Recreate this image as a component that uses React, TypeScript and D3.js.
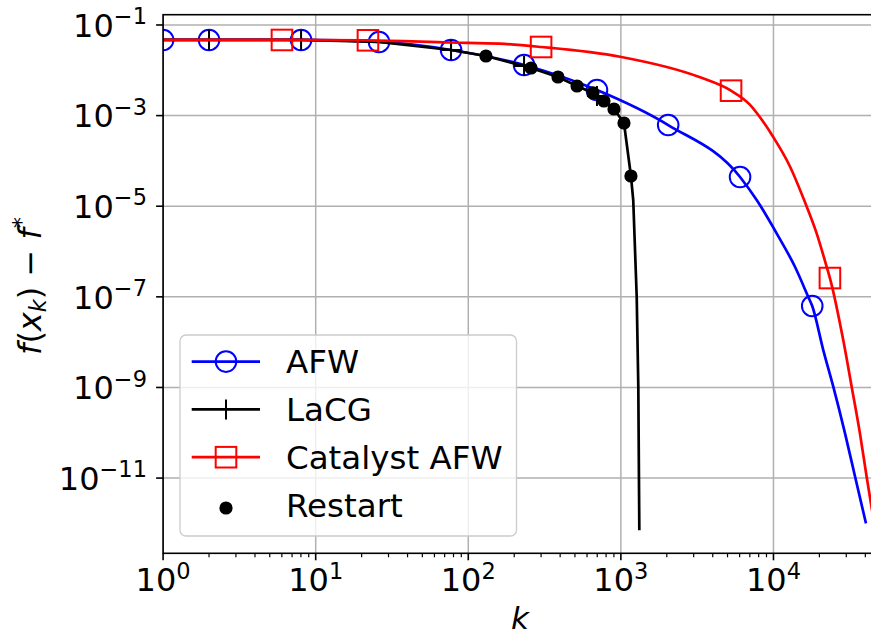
import React from 'react';
import * as d3 from 'd3';

// ---- data ----
const afwK = [1, 2, 8.02, 26, 77.1, 232, 697, 2042, 6040, 7762, 10490, 13830, 16900, 17950, 21200, 24660, 29440, 34270, 40390];
const afwF = [0.0467, 0.0467, 0.0467, 0.0422, 0.0281, 0.0131, 0.00367, 6.19e-4, 4.42e-5, 1.37e-5, 2.52e-6, 4.61e-7, 1.0e-7, 6.27e-8, 6.7e-9, 1.04e-9, 9.7e-11, 1.07e-11, 1.0e-12];
const afwMarkIdx = [0, 1, 2, 3, 4, 5, 6, 7, 8, 13];

const lacgK = [1, 2, 8.02, 26, 77.1, 130.6, 232, 258, 387, 516, 656, 697, 775, 901, 1048, 1164, 1205, 1270, 1301, 1321];
const lacgF = [0.0467, 0.0467, 0.0467, 0.0422, 0.0281, 0.0207, 0.01245, 0.01125, 0.00711, 0.0045, 0.00316, 0.00272, 0.0021, 0.0014, 6.87e-4, 4.65e-5, 1.37e-5, 9.9e-8, 1.02e-9, 7.1e-13];
const lacgMarkIdx = [1, 2, 4, 6, 11];
const restartIdx = [5, 7, 8, 9, 10, 12, 13, 14, 15];

const catK = [1, 6.01, 22.0, 75.9, 161, 300, 988, 3304, 5272, 7000, 8500, 9940, 12850, 15880, 19190, 22320, 23440, 28660, 32540, 36870, 40800, 43550, 46980];
const catF = [0.0467, 0.0467, 0.0459, 0.0411, 0.0387, 0.0327, 0.01995, 0.0070, 0.00355, 0.00175, 7.6e-4, 3.42e-4, 7.45e-5, 1.37e-5, 2.52e-6, 4.61e-7, 2.6e-7, 1.11e-8, 1.04e-9, 9.7e-11, 1.07e-11, 2.76e-12, 5.5e-13];
const catMarkIdx = [1, 2, 5, 8, 16];

const xTickExp = [0, 1, 2, 3, 4];
const yTickExp = [-1, -3, -5, -7, -9, -11];
const legendLabels = ['AFW', 'LaCG', 'Catalyst AFW', 'Restart'];

const FONT = 'DejaVu Sans';

export default function App() {
  const W = 871, H = 636;
  const left = 163.1, right = 874.6, top = 14.7, bottom = 553.3;
  const x = d3.scaleLog().domain([1, 46000]).range([left, right]);
  const y = d3.scaleLog().domain([Math.pow(10, -12.66), Math.pow(10, -0.773)]).range([bottom, top]);

  const smooth = d3.line<[number, number]>().x(d => x(d[0])).y(d => y(d[1])).curve(d3.curveMonotoneX);
  const straight = d3.line<[number, number]>().x(d => x(d[0])).y(d => y(d[1]));

  const afwPts = afwK.map((k, i) => [k, afwF[i]] as [number, number]);
  const lacgPts = lacgK.map((k, i) => [k, lacgF[i]] as [number, number]);
  const catPts = catK.map((k, i) => [k, catF[i]] as [number, number]);

  const minorX: number[] = [];
  for (let e = 0; e <= 4; e++) for (let m = 2; m <= 9; m++) { const v = m * Math.pow(10, e); if (v <= 46000) minorX.push(v); }

  const tickFs = 32, supFs = 22.5, supDy = 12.5;
  const legFs = 32.5;
  const legX = 180, legY = 335, legW = 336.5, legH = 201;
  const rowBase = (i: number) => 373.3 + i * 47.8;

  return (
    <svg width={W} height={H} style={{ position: 'absolute', left: 0, top: 0 }} fontFamily={FONT}>
      <rect x={0} y={0} width={W} height={H} fill="white" />
      <defs>
        <clipPath id="ax">
          <rect x={left} y={top} width={right - left} height={bottom - top} />
        </clipPath>
      </defs>
      {/* grid */}
      <g stroke="#b0b0b0" strokeWidth={1.5}>
        {xTickExp.map(e => <line key={'gx' + e} x1={x(Math.pow(10, e))} x2={x(Math.pow(10, e))} y1={top} y2={bottom} />)}
        {yTickExp.map(e => <line key={'gy' + e} x1={left} x2={right} y1={y(Math.pow(10, e))} y2={y(Math.pow(10, e))} />)}
      </g>
      <g clipPath="url(#ax)">
        {/* AFW */}
        <path d={smooth(afwPts) || ''} fill="none" stroke="#0000ff" strokeWidth={2.7} />
        {afwMarkIdx.map(i => <circle key={'am' + i} cx={x(afwK[i])} cy={y(afwF[i])} r={10.3} fill="none" stroke="#0000ff" strokeWidth={2} />)}
        {/* LaCG */}
        <path d={straight(lacgPts) || ''} fill="none" stroke="#000" strokeWidth={2.7} />
        {lacgMarkIdx.map(i => {
          const cx = x(lacgK[i]), cy = y(lacgF[i]);
          return <g key={'lm' + i} stroke="#000" strokeWidth={2}>
            <line x1={cx - 10} x2={cx + 10} y1={cy} y2={cy} />
            <line x1={cx} x2={cx} y1={cy - 10} y2={cy + 10} />
          </g>;
        })}
        {/* Catalyst AFW */}
        <path d={smooth(catPts) || ''} fill="none" stroke="#ff0000" strokeWidth={2.7} />
        {catMarkIdx.map(i => <rect key={'cm' + i} x={x(catK[i]) - 10.3} y={y(catF[i]) - 10.3} width={20.6} height={20.6} fill="none" stroke="#ff0000" strokeWidth={2} />)}
        {/* Restart */}
        {restartIdx.map(i => <circle key={'rs' + i} cx={x(lacgK[i])} cy={y(lacgF[i])} r={6.6} fill="#000" />)}
      </g>
      {/* spines */}
      <rect x={left} y={top} width={right - left} height={bottom - top} fill="none" stroke="#000" strokeWidth={1.6} />
      {/* ticks */}
      <g stroke="#000">
        {xTickExp.map(e => <line key={'xt' + e} x1={x(Math.pow(10, e))} x2={x(Math.pow(10, e))} y1={bottom} y2={bottom + 7} strokeWidth={1.6} />)}
        {minorX.map(v => <line key={'xm' + v} x1={x(v)} x2={x(v)} y1={bottom} y2={bottom + 4} strokeWidth={1.2} />)}
        {yTickExp.map(e => <line key={'yt' + e} x1={left - 7} x2={left} y1={y(Math.pow(10, e))} y2={y(Math.pow(10, e))} strokeWidth={1.6} />)}
      </g>
      {/* x tick labels */}
      {xTickExp.map(e => (
        <text key={'xl' + e} x={x(Math.pow(10, e))} y={591} textAnchor="middle" fontSize={tickFs} fill="#000">
          10<tspan dy={-supDy} fontSize={supFs}>{String(e)}</tspan>
        </text>
      ))}
      {/* y tick labels */}
      {yTickExp.map(e => (
        <text key={'yl' + e} x={147} y={y(Math.pow(10, e)) + 11.7} textAnchor="end" fontSize={tickFs} fill="#000">
          10<tspan dy={-supDy} fontSize={supFs}>{'\u2212' + String(-e)}</tspan>
        </text>
      ))}
      {/* axis labels */}
      <text x={520} y={629} textAnchor="middle" fontSize={31} fontStyle="italic" fill="#000">k</text>
      <text transform="translate(41,286) rotate(-90)" textAnchor="middle" fontSize={32} fill="#000">
        <tspan fontStyle="italic">f</tspan>(<tspan fontStyle="italic">x</tspan><tspan fontStyle="italic" fontSize={22.4} dy={5}>k</tspan><tspan dy={-5}>)</tspan>{' \u2212 '}<tspan fontStyle="italic">f</tspan><tspan fontSize={22.4} dy={-12}>*</tspan>
      </text>
      {/* legend */}
      <rect x={legX} y={legY} width={legW} height={legH} rx={6} fill="white" fillOpacity={0.8} stroke="#cccccc" strokeWidth={1.3} />
      {legendLabels.map((lab, i) => {
        const cy = rowBase(i) - 11.7;
        const hx1 = 191.7, hx2 = 260, hc = 226;
        let handle: React.ReactNode = null;
        if (i === 0) handle = <g><line x1={hx1} x2={hx2} y1={cy} y2={cy} stroke="#0000ff" strokeWidth={2.7} /><circle cx={hc} cy={cy} r={10.3} fill="none" stroke="#0000ff" strokeWidth={2} /></g>;
        if (i === 1) handle = <g stroke="#000"><line x1={hx1} x2={hx2} y1={cy} y2={cy} strokeWidth={2.7} /><line x1={hc} x2={hc} y1={cy - 10} y2={cy + 10} strokeWidth={2} /></g>;
        if (i === 2) handle = <g><line x1={hx1} x2={hx2} y1={cy} y2={cy} stroke="#ff0000" strokeWidth={2.7} /><rect x={hc - 10.3} y={cy - 10.3} width={20.6} height={20.6} fill="none" stroke="#ff0000" strokeWidth={2} /></g>;
        if (i === 3) handle = <circle cx={hc} cy={cy + 3} r={6.6} fill="#000" />;
        return <g key={'lg' + i}>
          {handle}
          <text x={286} y={rowBase(i)} fontSize={legFs} fill="#000">{lab}</text>
        </g>;
      })}
    </svg>
  );
}
